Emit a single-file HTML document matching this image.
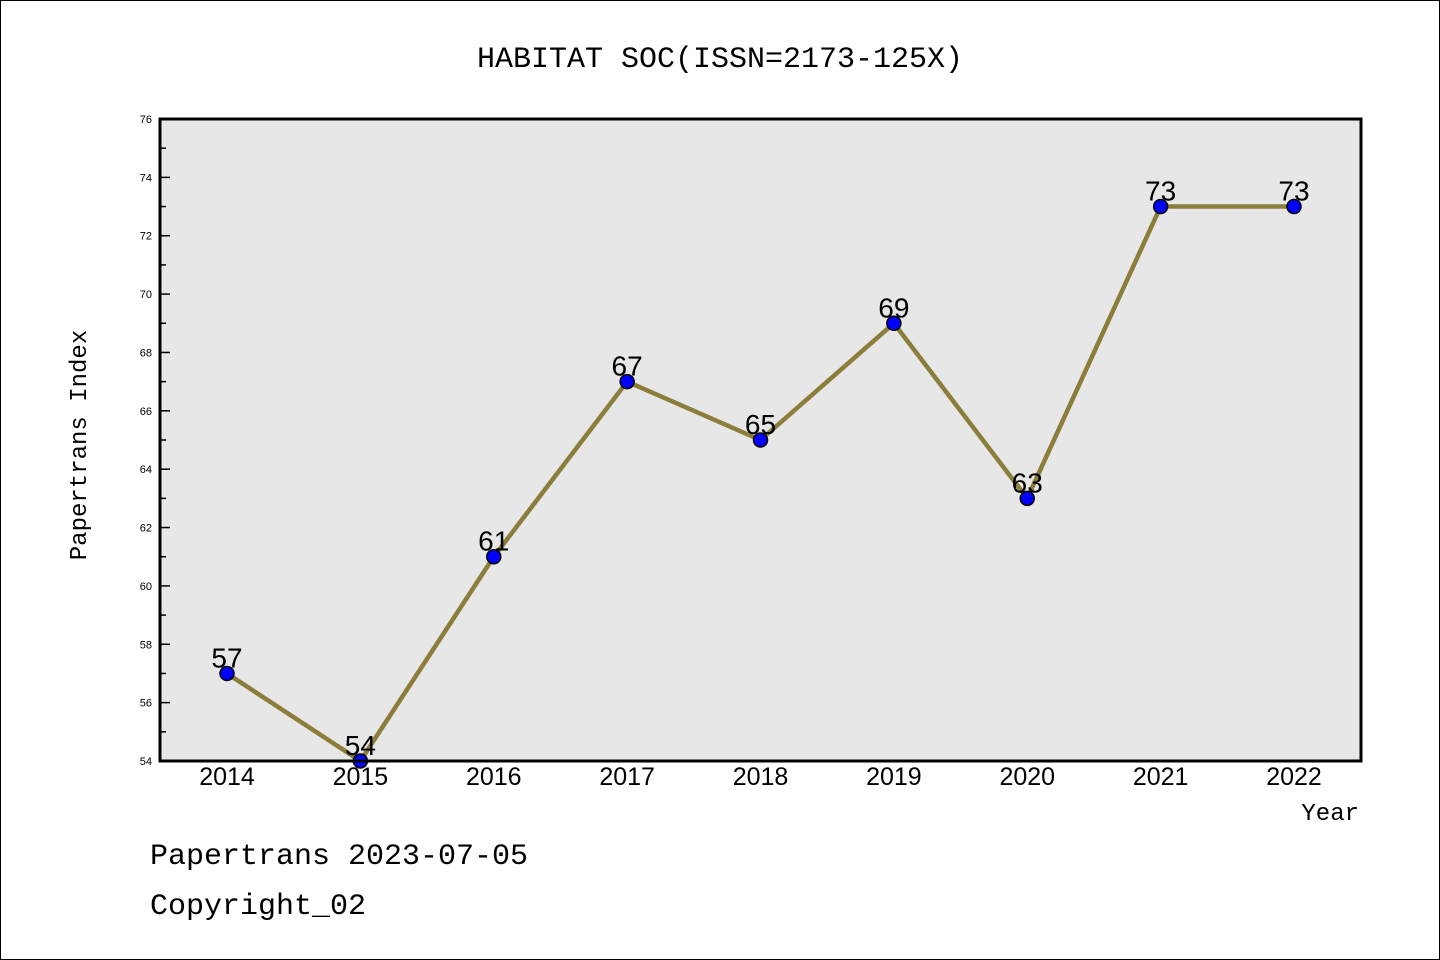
<!DOCTYPE html>
<html><head><meta charset="utf-8"><style>
body{margin:0;background:#fff}
svg{display:block}
text{font-family:"Liberation Mono",monospace}
.s{font-family:"Liberation Sans",sans-serif}
</style></head><body>
<svg id="c" width="1440" height="960" xmlns="http://www.w3.org/2000/svg">
<rect x="0.5" y="0.5" width="1439" height="959" fill="#fff" stroke="#000"/>
<text x="720" y="67" font-size="30" text-anchor="middle">HABITAT SOC(ISSN=2173-125X)</text>
<rect x="160" y="119" width="1201" height="642" fill="#e7e7e7"/>
<g id="g"></g>
<rect x="160" y="119" width="1201" height="642" fill="none" stroke="#000" stroke-width="3"/>
<text x="86" y="445" font-size="24" text-anchor="middle" transform="rotate(-90 86 445)">Papertrans Index</text>
<text x="1359" y="820" font-size="24" text-anchor="end">Year</text>
<text x="150" y="864" font-size="30">Papertrans 2023-07-05</text>
<text x="150" y="914" font-size="30">Copyright_02</text>
</svg>
<script>
const years=[2014,2015,2016,2017,2018,2019,2020,2021,2022];
const values=[57,54,61,67,65,69,63,73,73];
const yTicks=[54,56,58,60,62,64,66,68,70,72,74,76];
const NS="http://www.w3.org/2000/svg";
const g=document.getElementById('g');
const X=i=>227+i*(1294-227)/(years.length-1);
const Y=v=>761-(v-54)*(761-119)/(76-54);
function mk(t,a,p){const e=document.createElementNS(NS,t);for(const k in a)e.setAttribute(k,a[k]);(p||g).appendChild(e);return e;}
yTicks.forEach(v=>{
 const t=mk('line',{x1:160,x2:170,y1:Y(v),y2:Y(v),stroke:'#000','stroke-width':1.5});
 
 
 const l=mk('text',{x:152,y:Y(v)+4,'font-size':11,'text-anchor':'end',class:'s'});l.textContent=v;
 
 
 if(v<76){const m=mk('line',{x1:160,x2:166,y1:Y(v+1),y2:Y(v+1),stroke:'#000','stroke-width':1.5});
 
 }
});
years.forEach((yr,i)=>{
 const l=mk('text',{x:X(i),y:785,'font-size':25,'text-anchor':'middle',class:'s'});l.textContent=yr;
 
 
});
const line=mk('polyline',{points:values.map((v,i)=>X(i)+','+Y(v)).join(' '),fill:'none',stroke:'#8b7d3a','stroke-width':4.5});


values.forEach((v,i)=>{
 const c=mk('circle',{cx:X(i),cy:Y(v),r:7,fill:'#0000ff',stroke:'#000','stroke-width':1.5});
 
 
 const t=mk('text',{x:X(i),y:Y(v)-6,'font-size':28,'text-anchor':'middle',class:'s'});t.textContent=v;
 
 
});
</script>
</body></html>
